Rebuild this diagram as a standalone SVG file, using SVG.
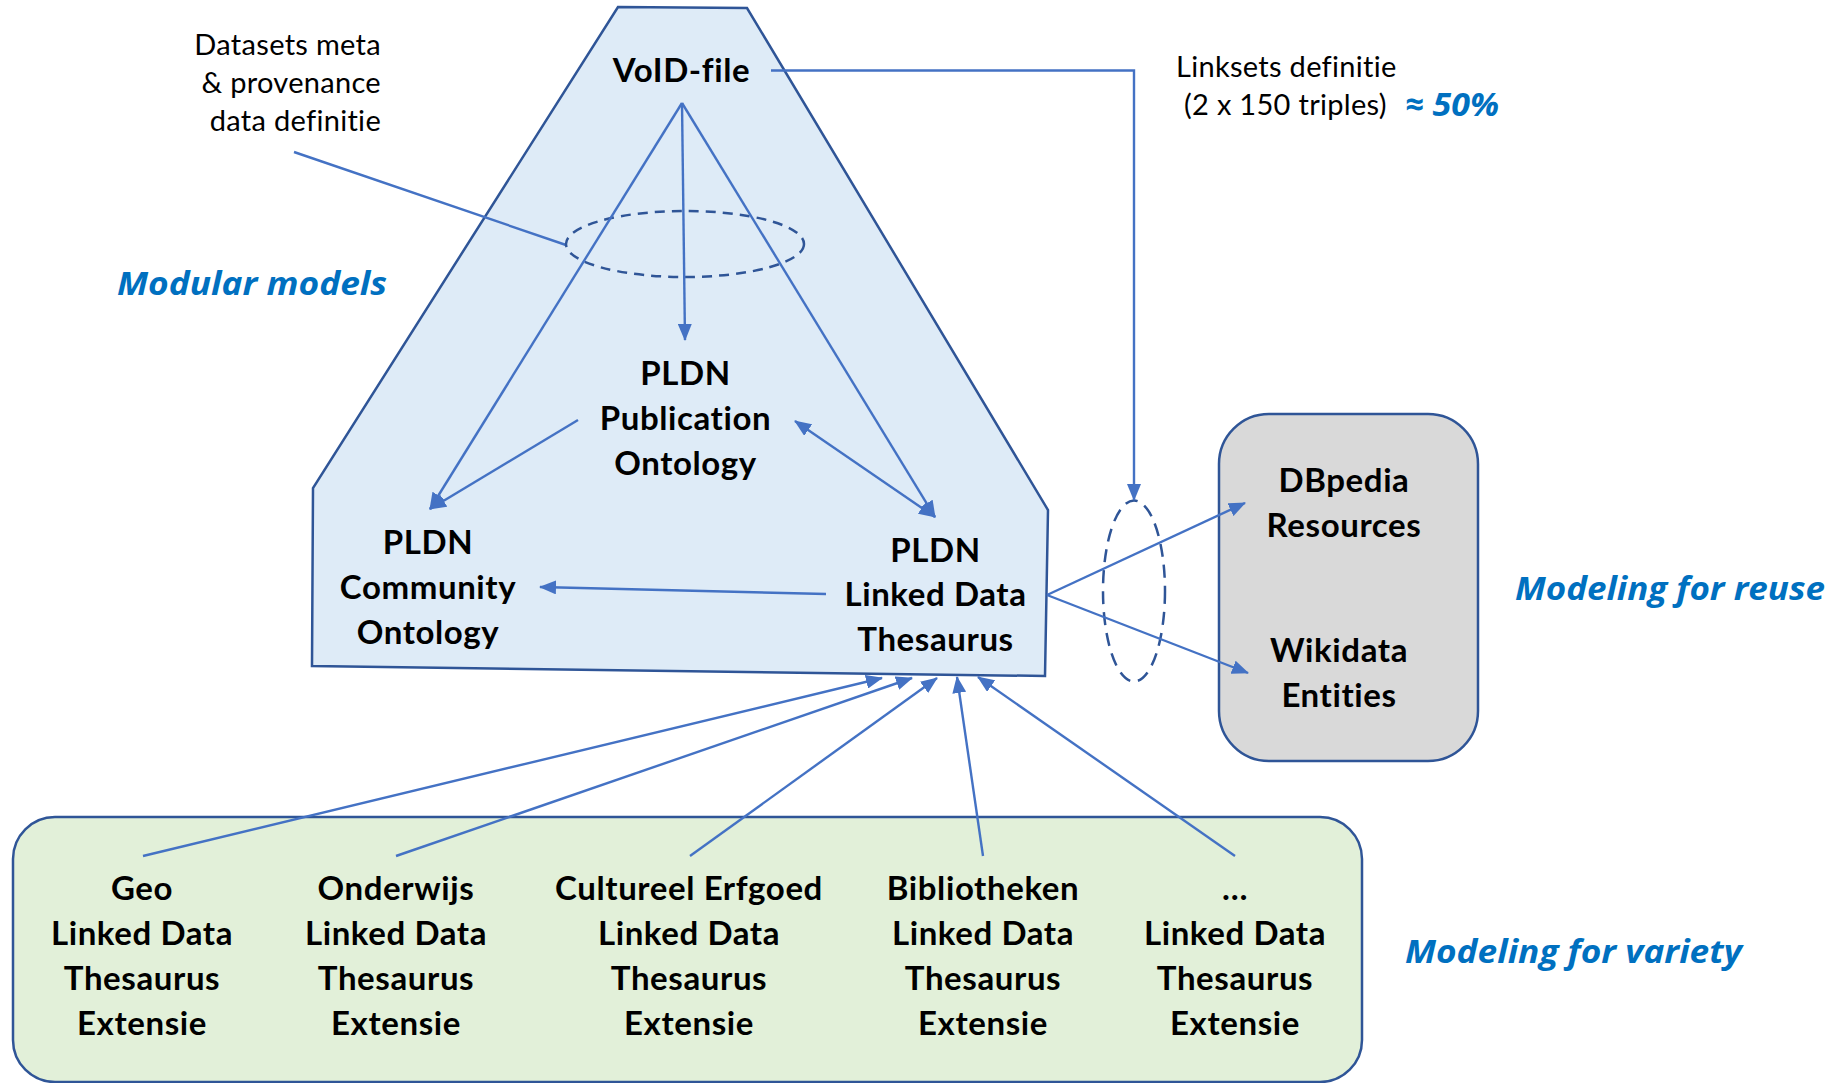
<svg xmlns="http://www.w3.org/2000/svg" width="1837" height="1083" viewBox="0 0 1837 1083">
<style>
.node{font-family:Lato,"Liberation Sans",sans-serif;font-weight:bold;font-size:33px;letter-spacing:0.6px;fill:#000;text-anchor:middle}
.lbl{font-family:Lato,"Liberation Sans",sans-serif;font-size:29px;letter-spacing:0.3px;fill:#000}
.blue{font-family:"Open Sans",Lato,"Liberation Sans",sans-serif;font-weight:bold;font-style:italic;font-size:33px;fill:#0070C0}
.con{fill:none;stroke:#4472C4;stroke-width:2.4}
.arr{marker-end:url(#ah)}
.dash{fill:none;stroke:#2F5597;stroke-width:2.5}
</style>
<defs>
<marker id="ah" markerUnits="userSpaceOnUse" markerWidth="17" markerHeight="14" refX="16" refY="7" orient="auto-start-reverse">
<path d="M0,0 L17,7 L0,14 z" fill="#4472C4"/>
</marker>
</defs>
<rect width="1837" height="1083" fill="#fff"/>

<g id="trapezoid">
<polygon points="618,7 747,8 1048,510 1045,676 312,666 313,488" fill="#DEEBF7" stroke="#2F5597" stroke-width="2.5"/>
</g>
<g id="reuse-box">
<rect x="1219" y="414" width="259" height="347" rx="50" ry="50" fill="#D9D9D9" stroke="#2F5597" stroke-width="2.5"/>
</g>
<g id="variety-box">
<rect x="13" y="817" width="1349" height="265" rx="42" ry="42" fill="#E2F0D9" stroke="#2F5597" stroke-width="2.5"/>
</g>

<g id="connectors">
<line class="con" x1="294" y1="152" x2="566" y2="245" stroke-width="1.4"/>
<ellipse class="dash" cx="685" cy="244" rx="119" ry="33" stroke-dasharray="10 7"/>
<ellipse class="dash" cx="1134" cy="591" rx="31" ry="90.5" stroke-width="2.2" stroke-dasharray="13 8"/>
<line class="con arr" x1="682" y1="103" x2="430" y2="509"/>
<line class="con arr" x1="682" y1="103" x2="685" y2="340"/>
<line class="con arr" x1="682" y1="103" x2="935" y2="517"/>
<line class="con arr" x1="578" y1="420" x2="430" y2="509"/>
<line class="con arr" x1="795" y1="421" x2="935" y2="517" marker-start="url(#ah)"/>
<line class="con arr" x1="826" y1="594" x2="540" y2="587"/>
<polyline class="con arr" points="771,70.5 1134,70.5 1134,500"/>
<line class="con arr" x1="1047" y1="595" x2="1245" y2="503"/>
<line class="con arr" x1="1047" y1="595" x2="1248" y2="673"/>
<line class="con arr" x1="143" y1="856" x2="882" y2="678"/>
<line class="con arr" x1="396" y1="856" x2="912" y2="678"/>
<line class="con arr" x1="690" y1="856" x2="937" y2="678"/>
<line class="con arr" x1="983" y1="856" x2="957" y2="677"/>
<line class="con arr" x1="1235" y1="856" x2="978" y2="677"/>
</g>

<g id="labels">
<text class="lbl" text-anchor="end"><tspan x="381" y="55">Datasets meta</tspan><tspan x="381" y="93">&amp; provenance</tspan><tspan x="381" y="131">data definitie</tspan></text>
<text class="lbl"><tspan x="1176" y="77">Linksets definitie</tspan><tspan x="1184" y="115">(2 x 150 triples)</tspan></text>
<text class="blue" x="1405" y="116" textLength="94" lengthAdjust="spacingAndGlyphs">≈ 50%</text>
<text class="blue" x="117" y="295" textLength="270" lengthAdjust="spacingAndGlyphs">Modular models</text>
<text class="blue" x="1515" y="600" textLength="310" lengthAdjust="spacingAndGlyphs">Modeling for reuse</text>
<text class="blue" x="1405" y="963" textLength="337" lengthAdjust="spacingAndGlyphs">Modeling for variety</text>
</g>

<g id="void-file"><text class="node" x="681.5" y="82">VoID-file</text></g>
<g id="publication"><text class="node"><tspan x="685.5" y="385">PLDN</tspan><tspan x="685.5" y="430">Publication</tspan><tspan x="685.5" y="475">Ontology</tspan></text></g>
<g id="community"><text class="node"><tspan x="428" y="554">PLDN</tspan><tspan x="428" y="599">Community</tspan><tspan x="428" y="644">Ontology</tspan></text></g>
<g id="linked-data"><text class="node"><tspan x="935.5" y="562">PLDN</tspan><tspan x="935.5" y="606">Linked Data</tspan><tspan x="935.5" y="651">Thesaurus</tspan></text></g>
<g id="dbpedia"><text class="node"><tspan x="1344" y="492">DBpedia</tspan><tspan x="1344" y="537">Resources</tspan></text></g>
<g id="wikidata"><text class="node"><tspan x="1339" y="662">Wikidata</tspan><tspan x="1339" y="707">Entities</tspan></text></g>
<g id="geo"><text class="node"><tspan x="142" y="900">Geo</tspan><tspan x="142" y="945">Linked Data</tspan><tspan x="142" y="990">Thesaurus</tspan><tspan x="142" y="1035">Extensie</tspan></text></g>
<g id="onderwijs"><text class="node"><tspan x="396" y="900">Onderwijs</tspan><tspan x="396" y="945">Linked Data</tspan><tspan x="396" y="990">Thesaurus</tspan><tspan x="396" y="1035">Extensie</tspan></text></g>
<g id="cultureel"><text class="node"><tspan x="689" y="900">Cultureel Erfgoed</tspan><tspan x="689" y="945">Linked Data</tspan><tspan x="689" y="990">Thesaurus</tspan><tspan x="689" y="1035">Extensie</tspan></text></g>
<g id="bibliotheken"><text class="node"><tspan x="983" y="900">Bibliotheken</tspan><tspan x="983" y="945">Linked Data</tspan><tspan x="983" y="990">Thesaurus</tspan><tspan x="983" y="1035">Extensie</tspan></text></g>
<g id="other"><text class="node"><tspan x="1235" y="900">…</tspan><tspan x="1235" y="945">Linked Data</tspan><tspan x="1235" y="990">Thesaurus</tspan><tspan x="1235" y="1035">Extensie</tspan></text></g>
</svg>
